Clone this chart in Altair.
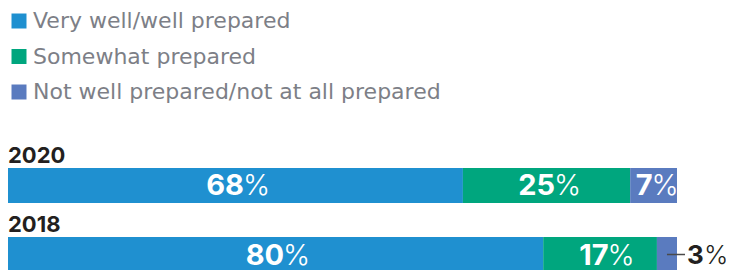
import altair as alt
import pandas as pd

years = ["2020", "2018"]
categories = ["Very well/well prepared", "Somewhat prepared", "Not well prepared/not at all prepared"]
colors = ["#1f90d0", "#00a67e", "#5a7bbf"]
values_2020 = [68, 25, 7]
values_2018 = [80, 17, 3]

PLOT_W = 669
rows = []
for yr, vals in zip(years, [values_2020, values_2018]):
    start = 0
    for i, (cat, v) in enumerate(zip(categories, vals)):
        end = start + v
        mid = (start + end) / 2
        n = len(str(v))
        inside = v >= 5
        split_px = (19 * n - 21) / 2
        rows.append(dict(year=yr, cat=cat, idx=i, value=v, start=start, end=end,
                         mid=mid, num=str(v), pct="%", inside=inside,
                         lx=mid + split_px * 100 / PLOT_W))
        start = end
df = pd.DataFrame(rows)

yscale = alt.Scale(domain=years, range=[160, 264], paddingInner=0.4928, paddingOuter=0)
xscale = alt.Scale(domain=[0, 100], nice=False)

base = alt.Chart(df)

bars = base.mark_bar(cornerRadius=0).encode(
    x=alt.X("start:Q", scale=xscale, axis=None),
    x2="end:Q",
    y=alt.Y("year:N", scale=yscale, axis=None),
    color=alt.Color("cat:N", scale=alt.Scale(domain=categories, range=colors),
                    legend=alt.Legend(title=None, orient="none", legendX=0, legendY=2,
                                      symbolType="square", symbolSize=225,
                                      symbolStrokeWidth=0, labelFont="DejaVu Sans",
                                      labelFontSize=22, labelColor="#7d7f87",
                                      labelOffset=3, rowPadding=13.5, padding=0,
                                      direction="vertical", labelLimit=600)),
    order=alt.Order("idx:Q"),
)

inside = base.transform_filter("datum.inside")
num_in = inside.mark_text(font="Inter", fontSize=29, fontWeight="bold", color="white",
                          align="right", baseline="alphabetic", dy=10).encode(
    x=alt.X("lx:Q", scale=xscale), y=alt.Y("year:N", scale=yscale), text="num:N")
pct_in = inside.mark_text(font="Inter", fontSize=29, fontWeight=300, color="white",
                          align="left", baseline="alphabetic", dy=10, dx=-1).encode(
    x=alt.X("lx:Q", scale=xscale), y=alt.Y("year:N", scale=yscale), text="pct:N")

outside = base.transform_filter("!datum.inside")
leader = outside.mark_rule(color="#4a4a4a", strokeWidth=1.5, x2Offset=8).encode(
    x=alt.X("mid:Q", scale=xscale), x2="end:Q", y=alt.Y("year:N", scale=yscale, bandPosition=0.5))
num_out = outside.mark_text(font="Inter", fontSize=26, fontWeight="bold", color="#231f20",
                            align="left", baseline="alphabetic", dy=9.5, dx=10).encode(
    x=alt.X("end:Q", scale=xscale), y=alt.Y("year:N", scale=yscale), text="num:N")
pct_out = outside.mark_text(font="Inter", fontSize=26, fontWeight=300, color="#231f20",
                            align="left", baseline="alphabetic", dy=9.5, dx=27).encode(
    x=alt.X("end:Q", scale=xscale), y=alt.Y("year:N", scale=yscale), text="pct:N")

year_lbl = base.transform_filter("datum.idx == 0").mark_text(
    font="Inter", fontSize=22, fontWeight="bold", color="#231f20",
    align="left", baseline="alphabetic", dy=-5).encode(
    x=alt.value(0), y=alt.Y("year:N", scale=yscale, bandPosition=0), text="year:N")

chart = alt.layer(bars, num_in, pct_in, leader, num_out, pct_out, year_lbl).properties(
    width=PLOT_W, height=262,
    autosize=alt.AutoSizeParams(type="none"),
    padding={"left": 0, "top": 0, "right": 718 - PLOT_W, "bottom": 0},
).configure_view(stroke=None)

chart.save("out.html", embed_options={"renderer": "svg", "actions": False})
